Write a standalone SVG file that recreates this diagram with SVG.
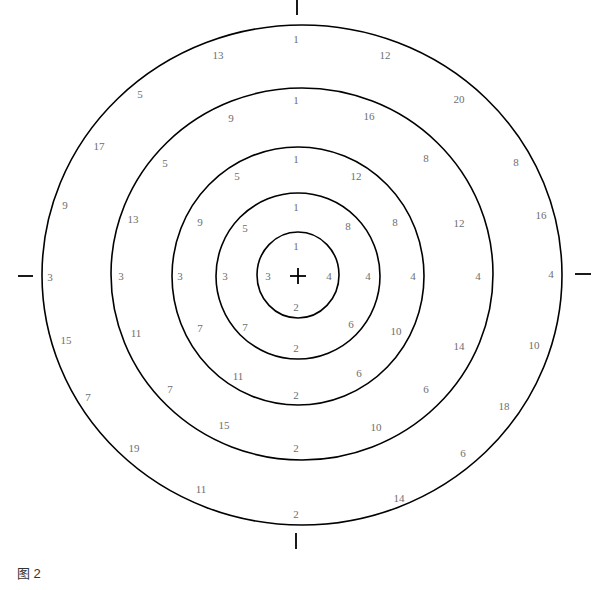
<svg xmlns="http://www.w3.org/2000/svg" width="608" height="590" viewBox="0 0 608 590">
<style>
.ring{fill:none;stroke:#000;stroke-width:1.6}
.tick{stroke:#000;stroke-width:1.8}
.n{font-family:"Liberation Serif",serif;font-size:11px;fill:#6e6e6e;text-anchor:middle}
.cap{font-family:"Liberation Sans","Noto Sans CJK SC",sans-serif;font-size:13px;fill:#333}
</style>
<rect width="608" height="590" fill="#fff"/>
<g id="rings">
<ellipse id="ring5" class="ring" cx="302" cy="275" rx="260" ry="250"/>
<ellipse id="ring4" class="ring" cx="302" cy="274" rx="191" ry="186"/>
<ellipse id="ring3" class="ring" cx="298" cy="276" rx="126" ry="129"/>
<ellipse id="ring2" class="ring" cx="298" cy="276" rx="82" ry="83"/>
<ellipse id="ring1" class="ring" cx="298" cy="275" rx="41" ry="43"/>
</g>
<g id="ticks">
<line class="tick" x1="297" y1="0" x2="297" y2="15"/>
<line class="tick" x1="296" y1="533" x2="296" y2="549"/>
<line class="tick" x1="18" y1="276" x2="33" y2="276"/>
<line class="tick" x1="575" y1="274" x2="591" y2="274"/>
<line class="tick" x1="290" y1="276" x2="306" y2="276" stroke-width="1.5"/>
<line class="tick" x1="298" y1="268" x2="298" y2="284" stroke-width="1.5"/>
</g>
<g id="labels">
<text class="n" x="296" y="43">1</text>
<text class="n" x="296" y="104">1</text>
<text class="n" x="296" y="163">1</text>
<text class="n" x="296" y="211">1</text>
<text class="n" x="296" y="250">1</text>
<text class="n" x="296" y="311">2</text>
<text class="n" x="296" y="352">2</text>
<text class="n" x="296" y="399">2</text>
<text class="n" x="296" y="452">2</text>
<text class="n" x="296" y="518">2</text>
<text class="n" x="50" y="281">3</text>
<text class="n" x="121" y="280">3</text>
<text class="n" x="180" y="280">3</text>
<text class="n" x="225" y="280">3</text>
<text class="n" x="268" y="280">3</text>
<text class="n" x="329" y="280">4</text>
<text class="n" x="368" y="280">4</text>
<text class="n" x="413" y="280">4</text>
<text class="n" x="478" y="280">4</text>
<text class="n" x="551" y="278">4</text>
<text class="n" x="218" y="59">13</text>
<text class="n" x="385" y="59">12</text>
<text class="n" x="140" y="98">5</text>
<text class="n" x="459" y="103">20</text>
<text class="n" x="231" y="122">9</text>
<text class="n" x="369" y="120">16</text>
<text class="n" x="99" y="150">17</text>
<text class="n" x="426" y="162">8</text>
<text class="n" x="516" y="166">8</text>
<text class="n" x="165" y="167">5</text>
<text class="n" x="237" y="180">5</text>
<text class="n" x="356" y="180">12</text>
<text class="n" x="65" y="209">9</text>
<text class="n" x="133" y="223">13</text>
<text class="n" x="200" y="226">9</text>
<text class="n" x="245" y="232">5</text>
<text class="n" x="348" y="230">8</text>
<text class="n" x="395" y="226">8</text>
<text class="n" x="459" y="227">12</text>
<text class="n" x="541" y="219">16</text>
<text class="n" x="66" y="344">15</text>
<text class="n" x="136" y="337">11</text>
<text class="n" x="200" y="332">7</text>
<text class="n" x="245" y="331">7</text>
<text class="n" x="351" y="328">6</text>
<text class="n" x="396" y="335">10</text>
<text class="n" x="459" y="350">14</text>
<text class="n" x="534" y="349">10</text>
<text class="n" x="88" y="401">7</text>
<text class="n" x="170" y="393">7</text>
<text class="n" x="238" y="380">11</text>
<text class="n" x="359" y="377">6</text>
<text class="n" x="426" y="393">6</text>
<text class="n" x="504" y="410">18</text>
<text class="n" x="224" y="429">15</text>
<text class="n" x="376" y="431">10</text>
<text class="n" x="463" y="457">6</text>
<text class="n" x="134" y="452">19</text>
<text class="n" x="201" y="493">11</text>
<text class="n" x="399" y="502">14</text>
</g>
<text class="cap" x="17" y="578">图 2</text>
</svg>
